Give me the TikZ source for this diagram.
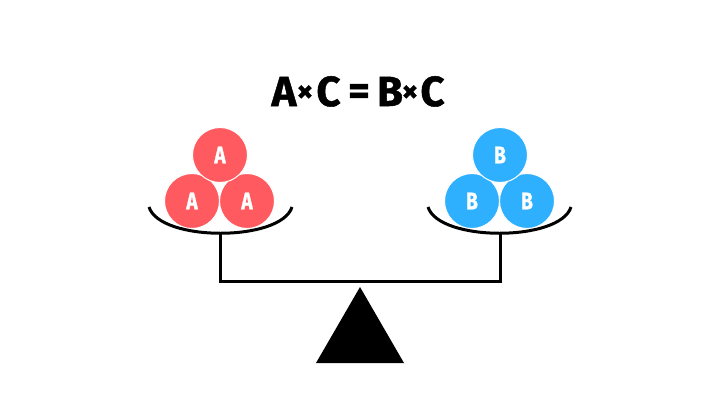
\documentclass[tikz,border=0pt]{standalone}
\usepackage{fontspec}
\setmainfont{Fira Sans}
\newfontfamily\titlefont{Fira Sans}[BoldFeatures={FakeBold=1.2}]
\definecolor{ballred}{HTML}{FF5A5F}
\definecolor{ballblue}{HTML}{2FB0FF}
\begin{document}
\begin{tikzpicture}[x=1pt,y=-1pt,
  ball/.style={circle, minimum size=55pt, inner sep=0pt, draw=white, line width=1pt,
    text=white, font=\titlefont\bfseries\fontsize{24}{24}\selectfont},
  redball/.style={ball, fill=ballred},
  blueball/.style={ball, fill=ballblue},
  beam/.style={line width=3pt, line join=miter, draw=black},
  title/.style={font=\titlefont\bfseries\fontsize{42}{42}\selectfont, inner sep=0pt, anchor=base},
  op/.style={font=\titlefont\bfseries\fontsize{32}{32}\selectfont, inner sep=0pt},
  eqop/.style={font=\titlefont\bfseries\fontsize{42}{42}\selectfont, inner sep=0pt}]
\useasboundingbox (0,0) rectangle (720,405);
\fill[white] (0,0) rectangle (720,405);
% title
\node[title] (tA)  at (284,106) {A};
\node[op]    (tx1) at (305,93.5) {×};
\node[title] (tC1) at (328.5,106) {C};
\node[eqop]  (teq) at (359,94.5) {=};
\node[title] (tB)  at (390,106) {B};
\node[op]    (tx2) at (410,93.5) {×};
\node[title] (tC2) at (432.5,106) {C};
% left balls
\node[redball] (a1) at (192,201) {\scalebox{0.8}[1]{A}};
\node[redball] (a2) at (247,201) {\scalebox{0.8}[1]{A}};
\node[redball] (a3) at (220,155) {\scalebox{0.8}[1]{A}};
% right balls
\node[blueball] (b1) at (472,201) {\scalebox{0.8}[1]{B}};
\node[blueball] (b2) at (527,201) {\scalebox{0.8}[1]{B}};
\node[blueball] (b3) at (500,155) {\scalebox{0.8}[1]{B}};
% bowls
\coordinate (lbowlL) at (149,207);
\coordinate (lbowlR) at (292,207);
\coordinate (lbowl) at (220,233);
\coordinate (rbowlL) at (428,207);
\coordinate (rbowlR) at (571,207);
\coordinate (rbowl) at (500,233);
\draw[beam] (lbowlL) .. controls (160,242) and (281,242) .. (lbowlR);
\draw[beam] (rbowlL) .. controls (439,242) and (560,242) .. (rbowlR);
% beam
\coordinate (lcorner) at (220,281.5);
\coordinate (rcorner) at (500,281.5);
\draw[beam] (lbowl) -- (lcorner) -- (rcorner) -- (rbowl);
% fulcrum
\coordinate (apex) at (360,287);
\coordinate (baseL) at (316,363);
\coordinate (baseR) at (404,363);
\fill[black] (apex) -- (baseR) -- (baseL) -- cycle;
\end{tikzpicture}
\end{document}
